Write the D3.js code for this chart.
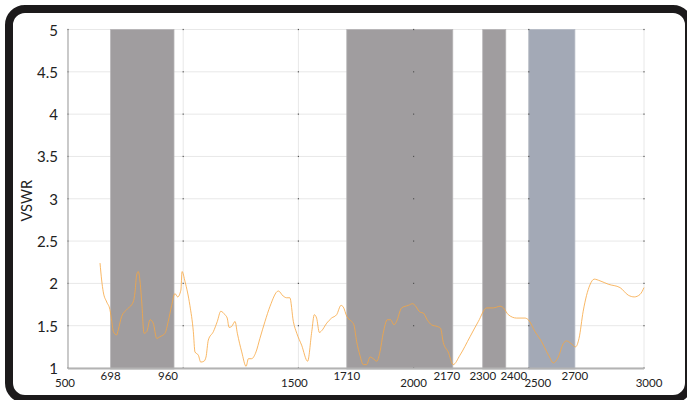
<!DOCTYPE html>
<html>
<head>
<meta charset="utf-8">
<script src="https://cdn.jsdelivr.net/npm/d3@7"></script>
<style>
  body { margin: 0; background: #fff; }
  svg { display: block; font-family: Lato, "Open Sans", sans-serif; }
</style>
</head>
<body>
<svg id="chart" width="687" height="400"></svg>
<script>
// measured curve (MHz, VSWR)
const freq = [639, 646, 653, 668, 682, 690, 697, 711, 718, 733, 755, 783, 791, 798, 805, 812, 820, 830, 842, 856,
  870, 885, 899, 921, 935, 950, 964, 976, 990, 995, 1008, 1029, 1044, 1051, 1066, 1076, 1090, 1099, 1109, 1131,
  1148, 1163, 1181, 1191, 1199, 1210, 1225, 1235, 1254, 1273, 1283, 1297, 1316, 1333, 1355, 1377, 1413, 1434, 1449, 1463,
  1478, 1493, 1514, 1540, 1558, 1569, 1579, 1591, 1601, 1623, 1644, 1666, 1685, 1695, 1710, 1731, 1741, 1753, 1767, 1782,
  1796, 1811, 1825, 1840, 1854, 1868, 1886, 1900, 1915, 1926, 1948, 1977, 1996, 2006, 2028, 2042, 2059, 2078, 2103, 2117,
  2129, 2150, 2172, 2201, 2245, 2281, 2317, 2346, 2375, 2390, 2411, 2447, 2483, 2498, 2527, 2556, 2578, 2590, 2606, 2628,
  2650, 2664, 2683, 2703, 2718, 2736, 2765, 2784, 2809, 2845, 2896, 2932, 2958, 2983, 3000];
const vswr = [2.24, 2.04, 1.90, 1.78, 1.69, 1.55, 1.43, 1.39, 1.45, 1.61, 1.69, 1.78, 1.90, 2.10, 2.14, 2.04, 1.78, 1.41, 1.43, 1.57,
  1.53, 1.35, 1.37, 1.41, 1.55, 1.74, 1.88, 1.84, 1.92, 2.14, 2.02, 1.74, 1.43, 1.19, 1.15, 1.07, 1.08, 1.13, 1.33, 1.43,
  1.55, 1.67, 1.63, 1.59, 1.48, 1.49, 1.55, 1.41, 1.19, 1.02, 1.11, 1.11, 1.19, 1.35, 1.55, 1.73, 1.91, 1.85, 1.83, 1.83,
  1.55, 1.41, 1.27, 1.08, 1.43, 1.63, 1.59, 1.42, 1.44, 1.53, 1.59, 1.63, 1.74, 1.72, 1.61, 1.55, 1.51, 1.31, 1.15, 1.04,
  1.04, 1.13, 1.11, 1.08, 1.19, 1.41, 1.57, 1.57, 1.51, 1.55, 1.71, 1.74, 1.76, 1.74, 1.66, 1.65, 1.57, 1.51, 1.49, 1.47,
  1.30, 1.19, 1.04, 1.15, 1.37, 1.55, 1.71, 1.71, 1.73, 1.71, 1.63, 1.59, 1.59, 1.57, 1.43, 1.31, 1.19, 1.13, 1.06, 1.13,
  1.29, 1.32, 1.29, 1.25, 1.35, 1.67, 1.98, 2.05, 2.03, 1.99, 1.95, 1.86, 1.84, 1.87, 1.95];

// frequency bands
const bandStart = [698, 1710, 2300, 2500];
const bandEnd = [960, 2170, 2400, 2700];
const bandKind = ["grey", "grey", "grey", "blue"];

// ticks
const yTicks = [1, 1.5, 2, 2.5, 3, 3.5, 4, 4.5, 5];
const xMajorTicks = [500, 1500, 2000, 2500, 3000];
const xBandTicks = [698, 960, 1710, 2170, 2300, 2400, 2700];
const xGrid = [1000, 1500, 2000, 2500, 3000];

const svg = d3.select("#chart");
const margin = { top: 29.5, right: 43, bottom: 32, left: 68 };
const width = 687, height = 400;

const x = d3.scaleLinear().domain([500, 3000]).range([margin.left, width - margin.right]);
const y = d3.scaleLinear().domain([1, 5]).range([height - margin.bottom, margin.top]);

// frame
svg.append("rect")
  .attr("x", 9).attr("y", 9)
  .attr("width", 680).attr("height", 390)
  .attr("rx", 16)
  .attr("fill", "#fff")
  .attr("stroke", "#1c1a1b")
  .attr("stroke-width", 8);

// grid
svg.append("g").selectAll("line")
  .data(yTicks)
  .join("line")
  .attr("x1", x(500)).attr("x2", x(3000))
  .attr("y1", d => y(d)).attr("y2", d => y(d))
  .attr("stroke", "#e8e8e8");

svg.append("g").selectAll("line")
  .data(xGrid)
  .join("line")
  .attr("x1", d => x(d)).attr("x2", d => x(d))
  .attr("y1", y(1)).attr("y2", y(5))
  .attr("stroke", "#e8e8e8");

// bands
const bands = bandStart.map((s, i) => ({ s, e: bandEnd[i], kind: bandKind[i] }));
svg.append("g").selectAll("rect")
  .data(bands)
  .join("rect")
  .attr("x", d => x(d.s) - (d.s === 698 ? 3 : 0))
  .attr("width", d => x(d.e) - x(d.s) + (d.s === 698 ? 3 : 0))
  .attr("y", y(5))
  .attr("height", y(1) - y(5) + 1)
  .attr("fill", d => d.kind === "blue" ? "#a3a9b6" : "#a09d9f")
  .attr("stroke", d => d.kind === "blue" ? "#b4b9c4" : "#b5b3b5")
  .attr("stroke-width", 0.8);

// little marks at grid crossings
const crossings = [];
[500].concat(xGrid).forEach(fx => yTicks.forEach(v => crossings.push([fx, v])));
svg.append("g").selectAll("rect")
  .data(crossings)
  .join("rect")
  .attr("x", d => x(d[0]) - 0.6)
  .attr("y", d => y(d[1]) - 0.6)
  .attr("width", 1.2).attr("height", 1.2)
  .attr("fill", "#555");

// axes lines
svg.append("line")
  .attr("x1", x(500)).attr("x2", x(500))
  .attr("y1", y(5)).attr("y2", y(1))
  .attr("stroke", "#a6a6a6").attr("stroke-width", 1.2);
svg.append("line")
  .attr("x1", x(500)).attr("x2", x(3000))
  .attr("y1", y(1) + 0.5).attr("y2", y(1) + 0.5)
  .attr("stroke", "#b3b3b3").attr("stroke-width", 2);

// VSWR curve
const pts = freq.map((f, i) => [f, vswr[i]]);
const line = d3.line()
  .x(d => x(d[0]))
  .y(d => y(d[1]))
  .curve(d3.curveMonotoneX);

svg.append("path")
  .datum(pts)
  .attr("fill", "none")
  .attr("stroke", "#f7a640")
  .attr("stroke-opacity", 0.8)
  .attr("stroke-width", 1)
  .attr("d", line);

// y tick labels
svg.append("g").selectAll("text")
  .data(yTicks)
  .join("text")
  .attr("x", 58)
  .attr("y", d => y(d) + 6)
  .attr("text-anchor", "end")
  .attr("font-size", 15)
  .attr("fill", "#222")
  .text(d => d);

// x tick labels, two rows
svg.append("g").selectAll("text")
  .data(xMajorTicks)
  .join("text")
  .attr("x", d => x(d) - (d === 500 ? 3 : 0) + (d === 2500 ? 9 : 0) + (d === 3000 ? 5 : 0) - (d === 1500 ? 4 : 0))
  .attr("y", 387)
  .attr("text-anchor", "middle")
  .attr("font-size", 11.5)
  .attr("fill", "#222")
  .text(d => d);

svg.append("g").selectAll("text")
  .data(xBandTicks)
  .join("text")
  .attr("x", d => x(d) + (d === 2400 ? 8 : 0) - (d === 2170 ? 6 : 0) - (d === 960 ? 6 : 0) - (d === 698 ? 3 : 0))
  .attr("y", 379.5)
  .attr("text-anchor", "middle")
  .attr("font-size", 11.5)
  .attr("fill", "#222")
  .text(d => d);

// y axis title
svg.append("text")
  .attr("transform", `translate(32,${(y(1) + y(5)) / 2 + 2}) rotate(-90)`)
  .attr("text-anchor", "middle")
  .attr("font-size", 14.5)
  .attr("fill", "#222")
  .text("VSWR");
</script>
</body>
</html>
